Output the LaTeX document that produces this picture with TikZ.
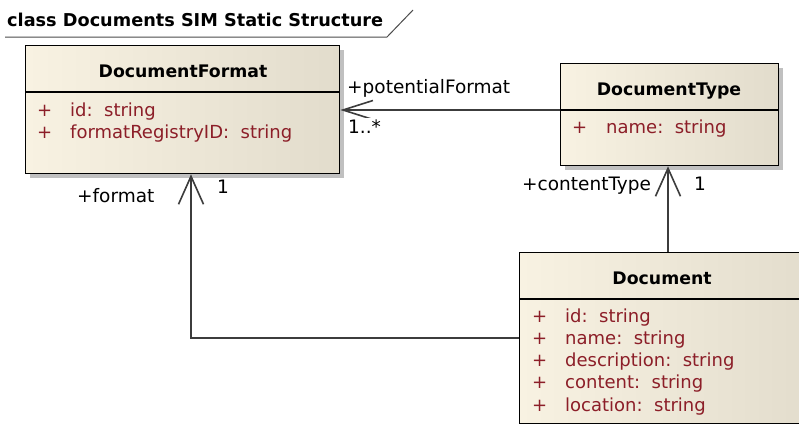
\documentclass[tikz,border=0pt]{standalone}
\usepackage{fontspec}
\usepackage{graphicx}
\setmainfont{DejaVu Sans}
\usetikzlibrary{arrows.meta}
\definecolor{boxL}{RGB}{248,242,226}
\definecolor{boxR}{RGB}{226,220,204}
\definecolor{attr}{RGB}{140,30,40}
\definecolor{shadowc}{RGB}{192,192,192}
\definecolor{linec}{RGB}{60,60,60}
\tikzset{
  classbox/.style={draw=black, line width=1.3pt, left color=boxL, right color=boxR,
    rectangle, inner sep=0pt, anchor=north west},
  sepline/.style={draw=black, line width=1.1pt},
  shadowbox/.style={fill=shadowc, draw=none},
  ctitle/.style={font=\fontsize{17.3}{20}\selectfont\bfseries, anchor=base, inner sep=0pt},
  attrtext/.style={font=\fontsize{18}{20}\selectfont, text=attr, anchor=base west, inner sep=0pt},
  lbl/.style={font=\fontsize{18.5}{20}\selectfont, anchor=base west, inner sep=0pt},
  assoc/.style={draw=linec, line width=1.6pt, -{Straight Barb[length=28pt,width=25pt]}},
  assocnarrow/.style={draw=linec, line width=1.6pt, -{Straight Barb[length=30pt,width=19pt]}},
}
\begin{document}
\begin{tikzpicture}[x=1pt,y=-1pt]
\clip (0,0) rectangle (799,424);
\fill[white] (0,0) rectangle (799,424);

% frame label
\node[font=\fontsize{17.9}{20}\selectfont\bfseries, anchor=base west, inner sep=0pt] (frame) at (7,26) {\resizebox{376pt}{!}{class Documents SIM Static Structure}};
\coordinate (fa) at (5,37);
\coordinate (fb) at (387,37);
\coordinate (fc) at (413,10);
\draw[line width=1pt, black!70] (fa) -- (fb) -- (fc);

% shadows
\fill[shadowbox] (30,50) rectangle (344,178);
\fill[shadowbox] (565,68) rectangle (783,170);

% DocumentFormat
\node[classbox, minimum width=314pt, minimum height=128pt] (df) at (25,45) {};
\draw[sepline] (df.west |- 0,92) -- (df.east |- 0,92);
\node[ctitle] (dft) at (183,77) {DocumentFormat};
\node[attrtext] (dfp1) at (37,116) {+};
\node[attrtext] (dfa1) at (70,116) {id:\ \ string};
\node[attrtext] (dfp2) at (37,138) {+};
\node[attrtext] (dfa2) at (70,138) {formatRegistryID:\ \ string};

% DocumentType
\node[classbox, minimum width=218pt, minimum height=102pt] (dt) at (560,63) {};
\draw[sepline] (dt.west |- 0,110) -- (dt.east |- 0,110);
\node[ctitle] (dtt) at (669,95) {DocumentType};
\node[attrtext] (dtp1) at (572,133) {+};
\node[attrtext] (dta1) at (606,133) {name:\ \ string};

% Document
\node[classbox, minimum width=300pt, minimum height=171pt] (doc) at (519,252) {};
\draw[sepline] (doc.west |- 0,299) -- (doc.east |- 0,299);
\node[ctitle] (doct) at (662,284) {Document};
\node[attrtext] (dp1) at (532,322) {+};
\node[attrtext] (da1) at (565,322) {id:\ \ string};
\node[attrtext] (dp2) at (532,344) {+};
\node[attrtext] (da2) at (565,344) {name:\ \ string};
\node[attrtext] (dp3) at (532,366.5) {+};
\node[attrtext] (da3) at (565,366.5) {description:\ \ string};
\node[attrtext] (dp4) at (532,388.5) {+};
\node[attrtext] (da4) at (565,388.5) {content:\ \ string};
\node[attrtext] (dp5) at (532,411) {+};
\node[attrtext] (da5) at (565,411) {location:\ \ string};

% connectors
\coordinate (pfstart) at (560,110);
\draw[assocnarrow] (pfstart) -- (df.east |- pfstart);
\coordinate (ctstart) at (668,252);
\draw[assoc] (ctstart) -- (ctstart |- dt.south);
\coordinate (fmstart) at (519,338);
\coordinate (fmcorner) at (191,338);
\draw[assoc] (fmstart) -- (fmcorner) -- (fmcorner |- df.south);

% labels
\node[lbl] (lpf) at (347,93) {+potentialFormat};
\node[lbl, fill=white, inner sep=1pt, anchor=base west] (lpfm) at (347,133) {1..*};
\node[lbl] (lct) at (522,190) {+contentType};
\node[lbl] (lctm) at (694,190) {1};
\node[lbl] (lfm) at (77,202) {+format};
\node[lbl, fill=white, inner sep=1pt] (lfmm) at (216,193) {1};
\end{tikzpicture}
\end{document}
